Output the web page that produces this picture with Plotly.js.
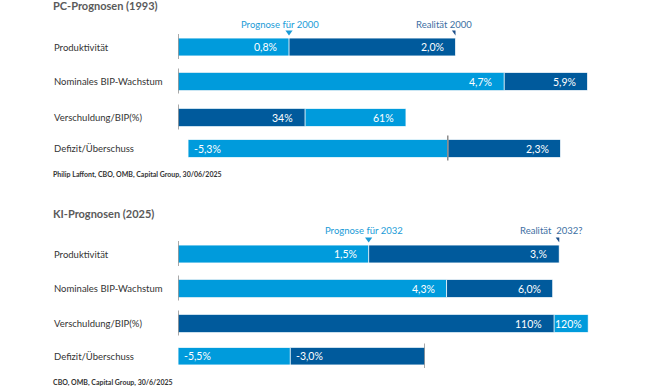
<!DOCTYPE html>
<html>
<head>
<meta charset="utf-8">
<script src="https://cdn.plot.ly/plotly-3.0.1.min.js"></script>
<style>html,body{margin:0;padding:0;background:#fff;}#chart{width:646px;height:388px;}</style>
</head>
<body>
<div id="chart"></div>
<script>
// ---------- data ----------
const rowNames = ['Produktivität', 'Nominales BIP-Wachstum', 'Verschuldung/BIP(%)', 'Defizit/Überschuss'];
const panelTitles = ['PC-Prognosen (1993)', 'KI-Prognosen (2025)'];
const sources = ['Philip Laffont, CBO, OMB, Capital Group, 30/06/2025', 'CBO, OMB, Capital Group, 30/6/2025'];
const markerLabels = [['Prognose für 2000', 'Realität 2000'], ['Prognose für 2032', 'Realität\u00a0 2032?']];

const pcLight = [0.8, 4.7, 61, -5.3];
const pcDark = [2.0, 5.9, 34, 2.3];
const pcLightText = ['0,8%', '4,7%', '61%', '-5,3%'];
const pcDarkText = ['2,0%', '5,9%', '34%', '2,3%'];

const kiLight = [1.5, 4.3, 120, -5.5];
const kiDark = [3.0, 6.0, 110, -3.0];
const kiLightText = ['1,5%', '4,3%', '120%', '-5,5%'];
const kiDarkText = ['3,%', '6,0%', '110%', '-3,0%'];

// ---------- layout constants ----------
const W = 646, H = 388;
const LIGHT = '#009bdc', DARK = '#005a9c';
const FONT = 'Lato, "Open Sans", sans-serif';
const rowPx = [
  [[38, 56], [72.5, 90.5], [108.5, 126.5], [139.5, 157.5]],
  [[245, 263], [279.5, 297.5], [314.5, 332.5], [347.5, 365]]
];
const rowXPx = [
  [[178, 455.5], [178, 587.5], [178, 406], [188, 560.5]],
  [[178, 559.3], [178, 552.7], [178, 588.3], [178, 425]]
];
const titleY = [6, 213];
const sourceY = [175, 382];
const markerTextY = [24, 230.7];
const markerShift = [[-9, -12], [-5, -8]];

const px2x = v => v / W;
const px2y = v => 1 - v / H;

const panels = [
  {light: pcLight, dark: pcDark, lt: pcLightText, dt: pcDarkText},
  {light: kiLight, dark: kiDark, lt: kiLightText, dt: kiDarkText}
];

const traces = [];
const annotations = [];
const shapes = [];
const layout = {
  width: W, height: H,
  margin: {l: 0, r: 0, t: 0, b: 0, pad: 0},
  paper_bgcolor: '#fff', plot_bgcolor: 'rgba(0,0,0,0)',
  showlegend: false, barmode: 'overlay',
  font: {family: FONT, color: '#333'},
  annotations: annotations, shapes: shapes
};

panels.forEach((P, p) => {
  annotations.push({xref: 'paper', yref: 'paper', x: px2x(51), y: px2y(titleY[p]), xanchor: 'left', yanchor: 'middle',
    text: panelTitles[p], showarrow: false, font: {family: FONT, size: 11, color: '#5a5a5a', weight: 'bold'}});
  annotations.push({xref: 'paper', yref: 'paper', x: px2x(51), y: px2y(sourceY[p]), xanchor: 'left', yanchor: 'middle',
    text: sources[p], showarrow: false, font: {family: FONT, size: 7, color: '#333', weight: 'bold'}});

  for (let r = 0; r < 4; r++) {
    const idx = p * 4 + r + 1;
    const xa = 'x' + (idx === 1 ? '' : idx), ya = 'y' + (idx === 1 ? '' : idx);
    const xk = 'xaxis' + (idx === 1 ? '' : idx), yk = 'yaxis' + (idx === 1 ? '' : idx);
    const l = P.light[r], d = P.dark[r];
    const lo = Math.min(0, l, d), hi = Math.max(0, l, d);
    const [t, b] = rowPx[p][r];
    const [x0, x1] = rowXPx[p][r];
    const pxPerUnit = (x1 - x0) / (hi - lo);
    layout[xk] = {domain: [px2x(x0), px2x(x1)], range: [lo, hi], visible: false, fixedrange: true, anchor: ya};
    layout[yk] = {domain: [px2y(b), px2y(t)], range: [-0.5, 0.5], visible: false, fixedrange: true, anchor: xa};

    const bars = [
      {v: l, c: LIGHT, txt: P.lt[r]},
      {v: d, c: DARK, txt: P.dt[r]}
    ].sort((a, b2) => Math.abs(b2.v) - Math.abs(a.v));
    bars.forEach((bb, k) => {
      traces.push({type: 'bar', orientation: 'h', x: [bb.v], y: [0], width: 1, xaxis: xa, yaxis: ya,
        marker: {color: bb.c, line: {color: 'rgba(255,255,255,0.85)', width: 1}}, hoverinfo: 'skip'});
      let seg = Math.abs(bb.v);
      if (k === 0 && Math.sign(bars[1].v) === Math.sign(bb.v)) seg -= Math.abs(bars[1].v);
      const narrow = seg * pxPerUnit < 45;
      annotations.push({xref: xa, yref: ya, x: bb.v, y: 0, text: bb.txt, showarrow: false,
        xanchor: bb.v >= 0 ? 'right' : 'left', yanchor: 'middle', xshift: bb.v >= 0 ? (narrow ? -4 : -10) : 4,
        font: {family: FONT, size: 10.5, color: '#fff'}});
    });

    shapes.push({type: 'line', xref: xa, yref: 'paper', x0: 0, x1: 0, y0: px2y(b + 3), y1: px2y(t - 4),
      line: {color: '#8c8c8c', width: 1.5}, layer: 'above'});

    annotations.push({xref: 'paper', yref: 'paper', x: px2x(52), y: px2y((t + b) / 2), xanchor: 'left', yanchor: 'middle',
      text: rowNames[r], showarrow: false, font: {family: FONT, size: 9.5, color: '#333'}});

    if (r === 0) {
      [[l, '#1a9bd7'], [d, '#1d4f8a']].forEach(([v, c]) => {
        shapes.push({type: 'path', xref: xa, xsizemode: 'pixel', xanchor: v, yref: 'paper', ysizemode: 'pixel',
          yanchor: px2y(t), path: 'M-3.6,7.6L3.6,7.6L0,2.4Z', fillcolor: c, line: {width: 0}, layer: 'above'});
      });
      annotations.push({xref: xa, yref: 'paper', x: l, y: px2y(markerTextY[p]), xanchor: 'center', yanchor: 'middle',
        xshift: markerShift[p][0], text: markerLabels[p][0], showarrow: false, font: {family: FONT, size: 9.5, color: '#1a9bd7'}});
      annotations.push({xref: xa, yref: 'paper', x: d, y: px2y(markerTextY[p]), xanchor: 'center', yanchor: 'middle',
        xshift: markerShift[p][1], text: markerLabels[p][1], showarrow: false, font: {family: FONT, size: 9.5, color: '#3d6fa3'}});
    }
  }
});

Plotly.newPlot('chart', traces, layout, {staticPlot: true, displayModeBar: false});
</script>
</body>
</html>
